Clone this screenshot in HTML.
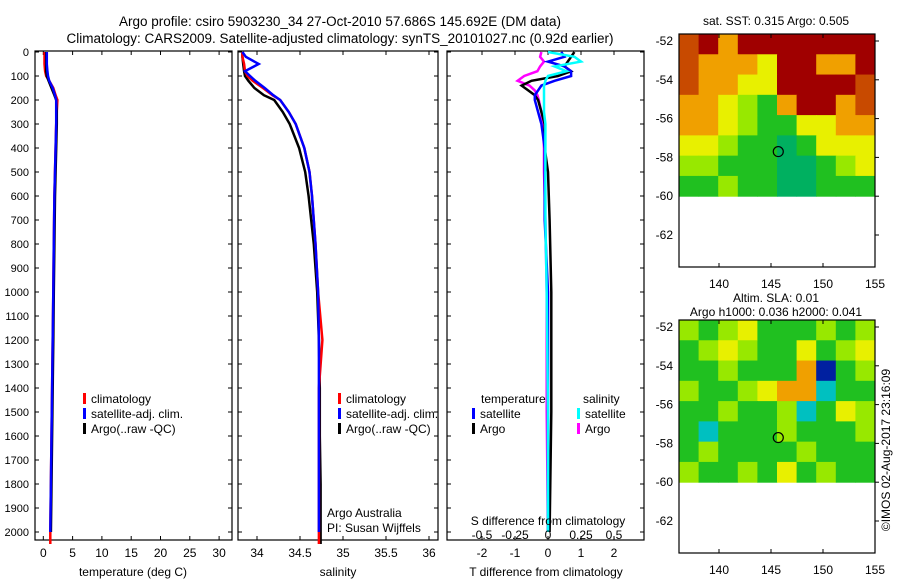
<!DOCTYPE html>
<html><head><meta charset="utf-8"><style>
body{margin:0;background:#fff;}
svg{display:block;font-family:"Liberation Sans",sans-serif;}
</style></head><body>
<svg id="c" width="900" height="580"></svg>
<script>
// ---- data ----
const depths=[0,20,50,80,100,120,150,180,200,250,300,400,500,600,800,1000,1200,1400,1600,1800,2000,2050];
const tempClim=[0.2,0.2,0.2,0.3,0.5,1.0,1.7,2.1,2.4,2.3,2.2,2.1,2.0,1.9,1.8,1.7,1.6,1.5,1.4,1.3,1.2,1.2];
const tempSat=[0.6,0.6,0.6,0.7,0.8,1.0,1.6,2.0,2.2,2.2,2.2,2.1,2.0,1.9,1.8,1.7,1.6,1.5,1.4,1.3,1.2,1.2];
const tempArgo=[0.5,0.5,0.5,0.5,0.6,0.9,1.4,1.9,2.2,2.3,2.3,2.2,2.1,2.0,1.9,1.8,1.7,1.6,1.5,1.4,1.3,1.3];
const salClim=[33.83,33.83,33.85,33.86,33.89,33.95,34.07,34.18,34.27,34.37,34.45,34.55,34.61,34.64,34.68,34.71,34.76,34.72,34.72,34.72,34.72,34.72];
const salSat=[33.83,33.87,34.02,33.86,33.92,33.98,34.09,34.19,34.27,34.37,34.45,34.55,34.61,34.64,34.68,34.71,34.72,34.72,34.72,34.72,34.72,34.72];
const salArgo=[33.83,33.83,33.84,33.85,33.86,33.9,33.97,34.08,34.2,34.3,34.38,34.49,34.56,34.6,34.66,34.7,34.72,34.73,34.73,34.74,34.74,34.74];
const dDepths=[0,20,40,60,80,100,120,140,160,180,200,250,300,400,500,700,1000,1500,2000];
const tDiffSat=[0.4,0.5,0.0,0.5,0.7,0.7,0.2,-0.2,-0.3,-0.4,-0.4,-0.3,-0.2,-0.1,-0.1,-0.1,0,0,0];
const tDiffArgo=[0.8,0.7,0.6,0.5,0.7,0.3,-0.5,-0.8,-0.6,-0.4,-0.3,-0.2,-0.1,-0.1,0,0.05,0.1,0.1,0.05];
const sDiffSat=[0.0,0.2,0.25,0.05,0.14,0.0,-0.02,-0.03,-0.03,-0.03,-0.03,-0.03,-0.02,-0.02,-0.02,-0.02,-0.01,0,0];
const sDiffArgo=[-0.05,-0.06,-0.03,-0.06,-0.08,-0.18,-0.23,-0.14,-0.1,-0.08,-0.07,-0.05,-0.04,-0.03,-0.03,-0.02,-0.01,-0.01,0];
const depthTicks=[0,100,200,300,400,500,600,700,800,900,1000,1100,1200,1300,1400,1500,1600,1700,1800,1900,2000];
const tempTicks=[0,5,10,15,20,25,30];
const salTicks=[34,34.5,35,35.5,36];
const tDiffTicks=[-2,-1,0,1,2];
const sDiffTicks=["-0.5","-0.25","0","0.25","0.5"];
const map1Grid=["DRORRRRRRR","DOOOYRROOR","DOOYYRRRRD","OOYLGORROD","OOYLGGYYOO","YYLGGTGYYY","LLGGGTTGLY","GGLGGTTGGG"];
const map2Grid=["LGLYGGGLGL","GLYLGGYGLY","GGLGGGOBGL","LGGLYOOCGG","GGLGGLCGYL","GCGGGLGGGL","GLGGGGLGGG","LGGLGYGLGG"];
const lonTicks=[140,145,150,155];
const latTicks=[-52,-54,-56,-58,-60,-62];
// ---- drawing ----
const S=document.getElementById('c');const NS='http://www.w3.org/2000/svg';
function el(t,a,p){const e=document.createElementNS(NS,t);for(const k in a)e.setAttribute(k,a[k]);(p||S).appendChild(e);return e;}
function txt(x,y,s,anchor,size,extra){const e=el('text',Object.assign({x:x,y:y,'font-size':size||12,'text-anchor':anchor||'start',fill:'#000'},extra||{}));e.textContent=s;return e;}
const yD=d=>52+d*0.24;
function panel(x0,x1,name){
  const g=el('g',{});
  
  
  el('rect',{x:x0,y:51,width:x1-x0,height:489,fill:'none',stroke:'#000','stroke-width':1.2},g);
  depthTicks.forEach(d=>{el('line',{x1:x0,x2:x0+4,y1:yD(d),y2:yD(d),stroke:'#000'},g);el('line',{x1:x1,x2:x1-4,y1:yD(d),y2:yD(d),stroke:'#000'},g);});
  return g;
}
function line(xs,ds,fx,color,g,w,name){
  const pts=xs.map((v,i)=>fx(v).toFixed(1)+','+yD(ds[i]).toFixed(1)).join(' ');
  const p=el('polyline',{points:pts,fill:'none',stroke:color,'stroke-width':w||2.5},g);
  
  
}
txt(340,26,'Argo profile: csiro 5903230_34 27-Oct-2010 57.686S 145.692E (DM data)','middle',13.5);
txt(340,43,'Climatology: CARS2009. Satellite-adjusted climatology: synTS_20101027.nc (0.92d earlier)','middle',13.5);
// panel1
const xT=v=>43.3+v*5.86;
const g1=panel(35,232,'temperature-panel');
depthTicks.forEach(d=>txt(29,yD(d)+4,String(d),'end',11));
tempTicks.forEach(t=>{el('line',{x1:xT(t),x2:xT(t),y1:540,y2:536,stroke:'#000'},g1);el('line',{x1:xT(t),x2:xT(t),y1:51,y2:55,stroke:'#000'},g1);txt(xT(t),557,String(t),'middle',12);});
line(tempClim,depths,xT,'#f00',g1,2.5,'temp-climatology-line');
line(tempArgo.slice(0,21),depths.slice(0,21),xT,'#000',g1,2.5,'temp-argo-line');
line(tempSat.slice(0,21),depths.slice(0,21),xT,'#00f',g1,2.5,'temp-satellite-line');
txt(133,576,'temperature (deg C)','middle',12);
function legend(x,y,g){
  [['#f00','climatology'],['#00f','satellite-adj. clim.'],['#000','Argo(..raw -QC)']].forEach((l,i)=>{el('rect',{x:x,y:y+i*15-10,width:3,height:11,fill:l[0]},g);txt(x+8,y+i*15,l[1],'start',12);});
}
legend(83,403,g1);
// panel2
const xS=v=>257+(v-34)*86;
const g2=panel(238,438,'salinity-panel');
salTicks.forEach(t=>{el('line',{x1:xS(t),x2:xS(t),y1:540,y2:536,stroke:'#000'},g2);el('line',{x1:xS(t),x2:xS(t),y1:51,y2:55,stroke:'#000'},g2);txt(xS(t),557,String(t),'middle',12);});
line(salArgo,depths,xS,'#000',g2,2.5,'sal-argo-line');
line(salClim,depths,xS,'#f00',g2,2.5,'sal-climatology-line');
line(salSat.slice(0,21),depths.slice(0,21),xS,'#00f',g2,2.5,'sal-satellite-line');
txt(338,576,'salinity','middle',12);
legend(338,403,g2);
txt(327,517,'Argo Australia','start',12);txt(327,532,'PI: Susan Wijffels','start',12);
// panel3
const xTd=v=>548+v*33;const xSd=v=>548+v*132;
const g3=panel(447,644,'difference-panel');
tDiffTicks.forEach(t=>{el('line',{x1:xTd(t),x2:xTd(t),y1:540,y2:536,stroke:'#000'},g3);el('line',{x1:xTd(t),x2:xTd(t),y1:51,y2:55,stroke:'#000'},g3);txt(xTd(t),557,String(t),'middle',12);});
sDiffTicks.forEach((t,i)=>txt(xSd(parseFloat(t)),539,t,'middle',12));
line(sDiffArgo,dDepths,xSd,'#f0f',g3,2.5,'sdiff-argo-line');
line(tDiffArgo,dDepths,xTd,'#000',g3,2.5,'tdiff-argo-line');
line(tDiffSat,dDepths,xTd,'#00f',g3,2.5,'tdiff-satellite-line');
line(sDiffSat,dDepths,xSd,'#0ff',g3,2.5,'sdiff-satellite-line');
txt(481,403,'temperature','start',12);txt(583,403,'salinity','start',12);
[['#00f','satellite',472,418],['#000','Argo',472,433],['#0ff','satellite',577,418],['#f0f','Argo',577,433]].forEach(l=>{el('rect',{x:l[2],y:l[3]-10,width:3,height:11,fill:l[0]},g3);txt(l[2]+8,l[3],l[1],'start',12);});
txt(548,525,'S difference from climatology','middle',12);
txt(546,576,'T difference from climatology','middle',12);
// maps
const colors={R:'#a00000',D:'#c84a00',O:'#f0a000',Y:'#e8f000',L:'#98e800',G:'#20c020',T:'#00b060',B:'#0020a0',C:'#00c0c0'};
function map(y0,grid,name){
  const g=el('g',{});
  
  
  const yL=lat=>y0+(-52-lat)*19.4+7; const xL=lon=>771+(lon-145)*10.4;
  const cw=(xL(155)-679)/10, rh=(yL(-60)-y0)/8;
  grid.forEach((row,r)=>row.split('').forEach((c,k)=>{el('rect',{x:679+k*cw,y:y0+r*rh,width:cw+0.5,height:rh+0.5,fill:colors[c]},g);}));
  el('rect',{x:679,y:y0,width:xL(155)-679,height:233,fill:'none',stroke:'#000','stroke-width':1.2},g);
  latTicks.forEach(l=>{el('line',{x1:xL(155),x2:xL(155)+4,y1:yL(l),y2:yL(l),stroke:'#000'},g);txt(673,yL(l)+4,String(l),'end',12);});
  lonTicks.forEach(l=>{el('line',{x1:xL(l),x2:xL(l),y1:y0+233,y2:y0+229,stroke:'#000'},g);el('line',{x1:xL(l),x2:xL(l),y1:y0,y2:y0+4,stroke:'#000'},g);txt(xL(l),y0+254,String(l),'middle',12);});
  el('circle',{cx:xL(145.7),cy:yL(-57.7),r:5,fill:'none',stroke:'#000','stroke-width':1.2},g);
}
map(34,map1Grid,'sst-map');
txt(776,25,'sat. SST: 0.315  Argo: 0.505','middle',12);
map(320,map2Grid,'sla-map');
txt(776,302,'Altim. SLA: 0.01','middle',12);
txt(776,316,'Argo h1000: 0.036  h2000: 0.041','middle',12);
txt(890,450,'©IMOS 02-Aug-2017 23:16:09','middle',12,{transform:'rotate(-90 890 450)'});
</script>
</body></html>
